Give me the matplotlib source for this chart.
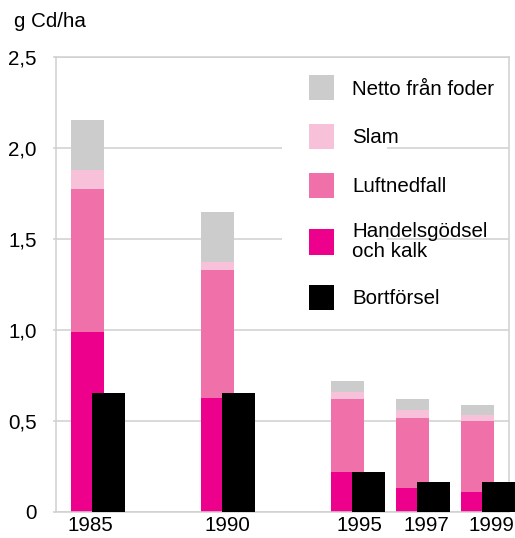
import matplotlib
matplotlib.use("Agg")
import matplotlib.pyplot as plt
from matplotlib.patches import Rectangle
import numpy as np

plt.rcParams['font.family'] = ['Liberation Sans', 'DejaVu Sans']

# ---- data ----
years = ["1985", "1990", "1995", "1997", "1999"]
positions = [0, 2, 4, 5, 6]
handelsgodsel = [0.99, 0.625, 0.22, 0.13, 0.11]
luftnedfall = [0.785, 0.705, 0.40, 0.385, 0.39]
slam = [0.105, 0.04, 0.04, 0.045, 0.03]
netto_foder = [0.275, 0.28, 0.06, 0.06, 0.055]
bortforsel = [0.65, 0.65, 0.22, 0.16, 0.16]
yticks = [0, 0.5, 1.0, 1.5, 2.0, 2.5]
ytick_labels = ["0", "0,5", "1,0", "1,5", "2,0", "2,5"]
label_offsets = [0.05, 0.16, 0.19, 0.21, 0.215]

c_netto = "#cccccc"
c_slam = "#f7c1da"
c_luft = "#f071aa"
c_handel = "#ec008c"
c_bort = "#000000"
grid_c = "#d0d0d0"

fs = 14.8
fig = plt.figure(figsize=(5.15, 5.38), dpi=100)
ax = fig.add_axes([55.5/515, 26.5/538, 453.5/515, 454.5/538])

x = np.array(positions, dtype=float)
w = 0.508
off = 0.323
h = np.array(handelsgodsel)
l = np.array(luftnedfall)
s = np.array(slam)
n = np.array(netto_foder)

b1 = ax.bar(x, h, w, color=c_handel, zorder=2, label="Handelsgödsel\noch kalk")
b2 = ax.bar(x, l, w, bottom=h, color=c_luft, zorder=2, label="Luftnedfall")
b3 = ax.bar(x, s, w, bottom=h + l, color=c_slam, zorder=2, label="Slam")
b4 = ax.bar(x, n, w, bottom=h + l + s, color=c_netto, zorder=2, label="Netto från foder")
b5 = ax.bar(x + off, bortforsel, w, color=c_bort, zorder=3, label="Bortförsel", clip_on=False)

ax.set_xlim(-0.49, 6.485)
ax.set_ylim(0, 2.5)
ax.set_yticks(yticks)
ax.set_yticklabels(ytick_labels, fontsize=fs)
ax.set_xticks(x + np.array(label_offsets))
ax.set_xticklabels(years, fontsize=fs)
ax.tick_params(axis='x', length=0, pad=3)
ax.tick_params(axis='y', length=2.5, width=1.1, color=grid_c, pad=11)
ax.set_axisbelow(True)
ax.yaxis.grid(True, color=grid_c, linewidth=1.1, zorder=0.5)
for sp in ax.spines.values():
    sp.set_color(grid_c)
    sp.set_linewidth(1.1)

# white mask behind the legend area
ax.add_patch(Rectangle((0.4995, 0.426), 0.2315, 0.556, transform=ax.transAxes,
                       facecolor="white", edgecolor="none", zorder=1))

leg = ax.legend([b4, b3, b2, b1, b5],
                ["Netto från foder", "Slam", "Luftnedfall", "Handelsgödsel\noch kalk", "Bortförsel"],
                loc="upper left", bbox_to_anchor=(0.559, 0.960), frameon=False,
                fontsize=fs, handlelength=1.22, handleheight=1.5, handletextpad=0.88,
                labelspacing=1.153, borderpad=0, borderaxespad=0)
for t in leg.get_texts():
    t.set_linespacing(1.1)

fig.text(14/515, 1 - 27/538, "g Cd/ha", fontsize=fs, va="baseline", ha="left")

fig.savefig("out.png", dpi=100)
